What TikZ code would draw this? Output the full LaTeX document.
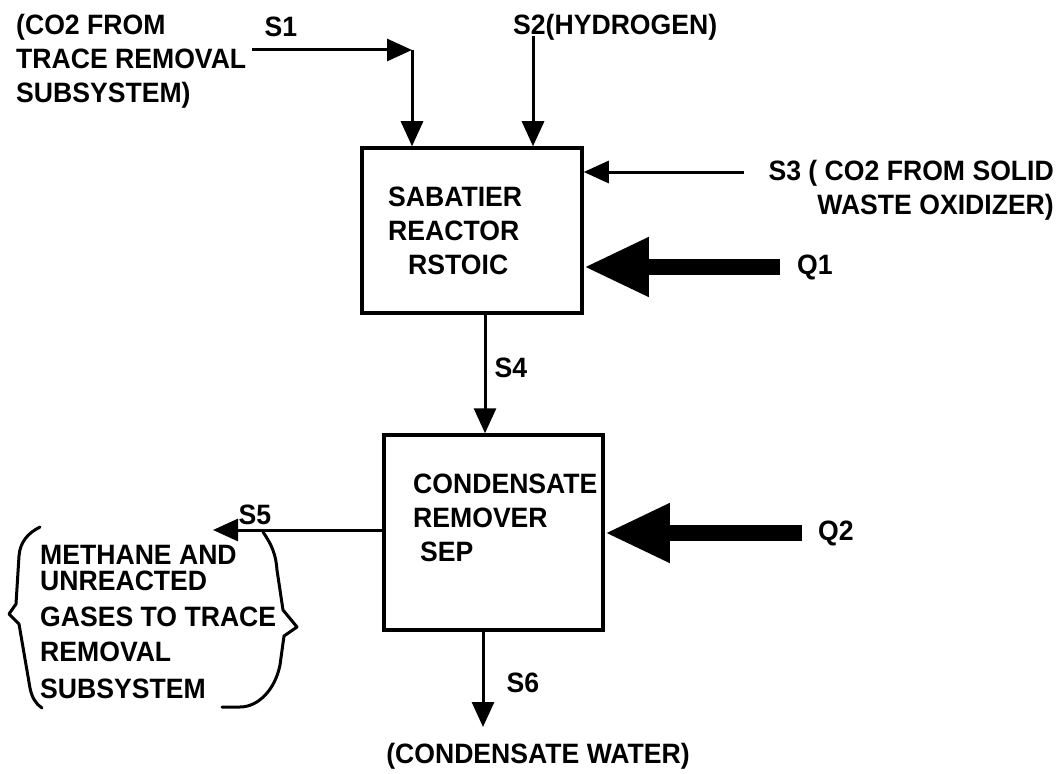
\documentclass[tikz,border=0pt]{standalone}
\usepackage{fontspec}
\setmainfont[FakeStretch=0.95]{Liberation Sans}
\usepackage{tikz}
\usetikzlibrary{positioning,arrows.meta}

\begin{document}
\begin{tikzpicture}[
  x = 1pt, y = -1pt, font = \bfseries\fontsize{28}{34}\selectfont,
  box/.style   = {rectangle, draw, line width=3.5pt, minimum width=220pt},
  txt/.style   = {align=left, inner sep=0pt},
  lbl/.style   = {inner sep=0pt},
  flow/.style  = {-{Triangle[length=25pt, width=22pt]}, line width=3pt},
  heat/.style  = {-{Triangle[length=65pt, width=55pt]}, line width=16pt},
  brace/.style = {line width=3pt, line join=round, line cap=round}
]
\useasboundingbox (0,0) rectangle (1059,773);
% units
\node[box, minimum height=165pt] (rx) at (472,230.5) {};
\node[box, minimum height=195pt, minimum width=219pt] (sep) at (493.5,532.5) {};
\node[txt, anchor=west] (rxtxt)  at (388,231) {SABATIER\\REACTOR\\\hspace*{20pt}RSTOIC};
\node[txt, anchor=west] (septxt) at (413,518) {CONDENSATE\\REMOVER\\\hspace*{7pt}SEP};
% stream labels
\node[txt, anchor=west] (co2src) at (16,61) {(CO2 FROM\\TRACE REMOVAL\\SUBSYSTEM)};
\node[lbl] (s1) at (281,27) {S1};
\node[lbl, anchor=west] (s2) at (513,27) {S2(HYDROGEN)};
\node[lbl, align=right, anchor=east] (s3) at (1054,190) {S3 ( CO2 FROM SOLID\\WASTE OXIDIZER)};
\node[lbl, anchor=west] (q1) at (797,267) {Q1};
\node[lbl] (s4) at (511,368) {S4};
\node[lbl] (s5) at (255,515) {S5};
\node[lbl, anchor=west] (q2) at (818,533) {Q2};
\node[lbl] (s6) at (523,683) {S6};
\node[lbl] (water) at (538,756) {(CONDENSATE WATER)};
\node[txt, anchor=west] (gases) at (40,622)
  {METHANE AND\\[-8pt]UNREACTED\\[2pt]GASES TO TRACE\\[1pt]REMOVAL\\[3pt]SUBSYSTEM};
% streams
\coordinate (s1in)   at (252,50);
\coordinate (s1bend) at (412,50);
\coordinate (s2in)   at (533,36);
\coordinate (s3in)   at (744,172);
\coordinate (q1in)   at (780,267);
\coordinate (s5out)  at (213,530);
\coordinate (q2in)   at (802,533);
\coordinate (s6out)  at (483,727);
\draw[flow] (s1in)   -- (s1bend);
\draw[flow] (s1bend) -- (s1bend |- rx.north);
\draw[flow] (s2in)   -- (s2in |- rx.north);
\draw[flow] (s3in)   -- (s3in -| rx.east);
\draw[heat] (q1in)   -- (q1in -| rx.east);
\draw[flow] ([xshift=13pt]rx.south) -- ([xshift=13pt]rx.south |- sep.north);
\draw[flow] (s5out -| sep.west) -- (s5out);
\draw[heat] (q2in)   -- (q2in -| sep.east);
\draw[flow] (s6out |- sep.south) -- (s6out);
% braces round the S5 note
\draw[brace] (40,527) .. controls (28,533) and (20,542) .. (19,556) -- (16,604) -- (9,614)
  -- (19,624) -- (30,688) .. controls (32,698) and (36,704) .. (42,708);
\draw[brace] (263,532) .. controls (272,545) and (276,555) .. (277,570) -- (283,610) -- (297,627)
  -- (284,636) -- (280,665) .. controls (275,690) and (258,707) .. (240,707) -- (222,707);
\end{tikzpicture}
\end{document}
